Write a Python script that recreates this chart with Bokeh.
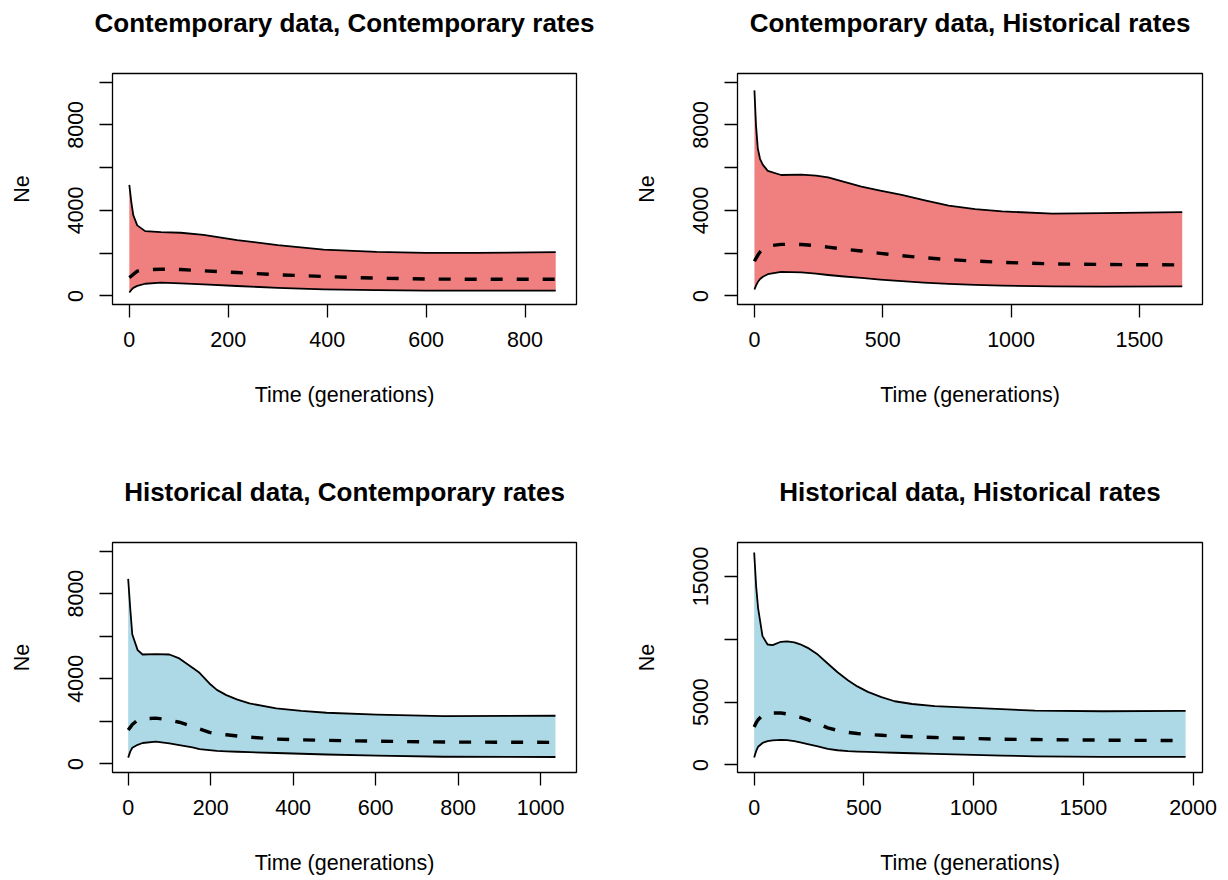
from bokeh.plotting import figure
from bokeh.layouts import column, row
from bokeh.models import FixedTicker, Range1d, Title
from bokeh.embed import file_html
from bokeh.resources import INLINE

# ---------------- data ----------------
titles = ["Contemporary data, Contemporary rates",
          "Contemporary data, Historical rates",
          "Historical data, Contemporary rates",
          "Historical data, Historical rates"]

# Panel 1: Contemporary data, Contemporary rates
t1 = [0, 4, 8, 16, 32, 64, 104, 150, 218, 300, 393, 500, 600, 700, 862]
up1 = [5190, 4400, 3780, 3300, 3030, 2985, 2955, 2860, 2610, 2375, 2170, 2060, 2015, 2015, 2045]
med1 = [860, 930, 1010, 1160, 1225, 1250, 1235, 1175, 1095, 990, 910, 830, 790, 780, 780]
lo1 = [160, 280, 380, 470, 570, 625, 590, 540, 465, 380, 310, 270, 250, 250, 250]

# Panel 2: Contemporary data, Historical rates
t2 = [0, 6, 13, 22, 33, 52, 104, 183, 240, 287, 350, 417, 490, 574, 660, 757, 860, 965, 1161, 1356, 1667]
up2 = [9610, 8000, 6900, 6400, 6125, 5845, 5655, 5670, 5630, 5545, 5330, 5110, 4920, 4720, 4480, 4220, 4060, 3955, 3845, 3875, 3920]
med2 = [1625, 1760, 1900, 2060, 2200, 2330, 2410, 2405, 2350, 2280, 2190, 2100, 1990, 1880, 1790, 1700, 1630, 1570, 1500, 1470, 1450]
lo2 = [300, 480, 650, 790, 900, 1015, 1130, 1100, 1040, 980, 910, 840, 760, 690, 620, 560, 515, 480, 445, 438, 450]

# Panel 3: Historical data, Contemporary rates
t3 = [0, 5, 10, 23, 35, 67, 100, 124, 156, 173, 197, 215, 238, 265, 294, 359, 420, 481, 603, 765, 1036]
up3 = [8690, 7300, 6080, 5345, 5140, 5160, 5140, 4955, 4515, 4280, 3780, 3480, 3235, 3020, 2845, 2610, 2490, 2405, 2315, 2250, 2265]
med3 = [1595, 1720, 1850, 2070, 2120, 2155, 2070, 1960, 1760, 1650, 1485, 1420, 1370, 1310, 1260, 1170, 1135, 1110, 1070, 1030, 1015]
lo3 = [300, 580, 760, 900, 985, 1045, 970, 890, 780, 700, 650, 620, 595, 575, 555, 515, 480, 445, 390, 340, 328]

# Panel 4: Historical data, Historical rates
t4 = [0, 9, 18, 38, 61, 84, 122, 150, 183, 210, 244, 290, 335, 380, 427, 470, 518, 580, 640, 720, 823, 1128, 1280, 1585, 1966]
up4 = [16910, 14200, 12450, 10250, 9585, 9530, 9800, 9830, 9745, 9600, 9320, 8780, 8070, 7380, 6745, 6250, 5815, 5400, 5070, 4850, 4675, 4435, 4330, 4275, 4300]
med4 = [3030, 3350, 3600, 3950, 4080, 4130, 4130, 4060, 3900, 3780, 3600, 3300, 2950, 2750, 2590, 2500, 2430, 2360, 2300, 2240, 2180, 2045, 2020, 1975, 1935]
lo4 = [585, 1100, 1450, 1750, 1900, 1950, 1990, 1975, 1900, 1790, 1650, 1470, 1280, 1170, 1100, 1065, 1040, 1000, 970, 930, 880, 740, 690, 640, 637]

xticks1 = [0, 200, 400, 600, 800]
xticks2 = [0, 500, 1000, 1500]
xticks3 = [0, 200, 400, 600, 800, 1000]
xticks4 = [0, 500, 1000, 1500, 2000]
yticks_a = [0, 2000, 4000, 6000, 8000, 10000]
ylabels_a = {2000: "", 6000: "", 10000: ""}
yticks_b = [0, 5000, 10000, 15000]
ylabels_b = {10000: ""}

RED = "#F08080"
BLUE = "#ADD8E6"
FONT = "Liberation Sans"


def panel(title, t, up, med, lo, color, xr, yr, xticks, yticks, yover,
          width, height, bl, br, bt, bb):
    p = figure(width=width, height=height, output_backend="svg",
               toolbar_location=None, x_range=Range1d(*xr), y_range=Range1d(*yr),
               min_border_left=bl, min_border_right=br,
               min_border_top=bt, min_border_bottom=bb, title=None,
               x_axis_label="Time (generations)", y_axis_label="Ne")
    # spacer (nearest the plot box), then the real title above it
    p.add_layout(Title(text=" ", text_font_size="1px", standoff=33), "above")
    p.add_layout(Title(text=title, align="center", text_font=FONT,
                       text_font_style="bold", text_font_size="26px",
                       text_color="black", standoff=0), "above")
    p.grid.visible = False
    p.outline_line_color = "black"
    p.outline_line_width = 1.3
    p.outline_line_alpha = 1.0
    p.background_fill_color = "white"
    p.border_fill_color = "white"

    xs = list(t) + list(t)[::-1]
    ys = list(up) + list(lo)[::-1]
    p.patch(xs, ys, fill_color=color, line_color=None)
    p.line(t, up, line_color="black", line_width=1.8, line_join="round")
    p.line(t, lo, line_color="black", line_width=1.8, line_join="round")
    p.line(t, med, line_color="black", line_width=3.4, line_dash="12 14", line_join="round")

    for ax in (p.xaxis[0], p.yaxis[0]):
        ax.axis_line_color = None
        ax.major_tick_line_color = "black"
        ax.major_tick_line_width = 1.3
        ax.major_tick_in = 0
        ax.major_tick_out = 13
        ax.minor_tick_line_color = None
        ax.major_label_text_font = FONT
        ax.major_label_text_font_size = "21.5px"
        ax.major_label_text_color = "black"
        ax.axis_label_text_font = FONT
        ax.axis_label_text_font_size = "21.5px"
        ax.axis_label_text_font_style = "normal"
        ax.axis_label_text_color = "black"
    p.xaxis[0].ticker = FixedTicker(ticks=xticks)
    p.yaxis[0].ticker = FixedTicker(ticks=yticks)
    p.yaxis[0].major_label_overrides = yover
    p.yaxis[0].major_label_orientation = "vertical"
    p.xaxis[0].major_label_standoff = 14
    p.xaxis[0].axis_label_standoff = 33
    p.yaxis[0].major_label_standoff = 16
    p.yaxis[0].axis_label_standoff = 32
    return p


p1 = panel(titles[0], t1, up1, med1, lo1, RED, (-34, 904), (-400, 10400),
           xticks1, yticks_a, ylabels_a, 624, 469, 112, 48, 73, 165)
p2 = panel(titles[1], t2, up2, med2, lo2, RED, (-66, 1746), (-400, 10400),
           xticks2, yticks_a, ylabels_a, 604, 469, 113, 26, 73, 165)
p3 = panel(titles[2], t3, up3, med3, lo3, BLUE, (-38, 1087), (-400, 10400),
           xticks3, yticks_a, ylabels_a, 624, 411, 112, 48, 73, 108)
p4 = panel(titles[3], t4, up4, med4, lo4, BLUE, (-76, 2043), (-600, 17700),
           xticks4, yticks_b, ylabels_b, 604, 411, 113, 26, 73, 108)

layout = column(row(p1, p2, spacing=0), row(p3, p4, spacing=0), spacing=0)
open("out.html", "w").write(file_html(layout, INLINE))
